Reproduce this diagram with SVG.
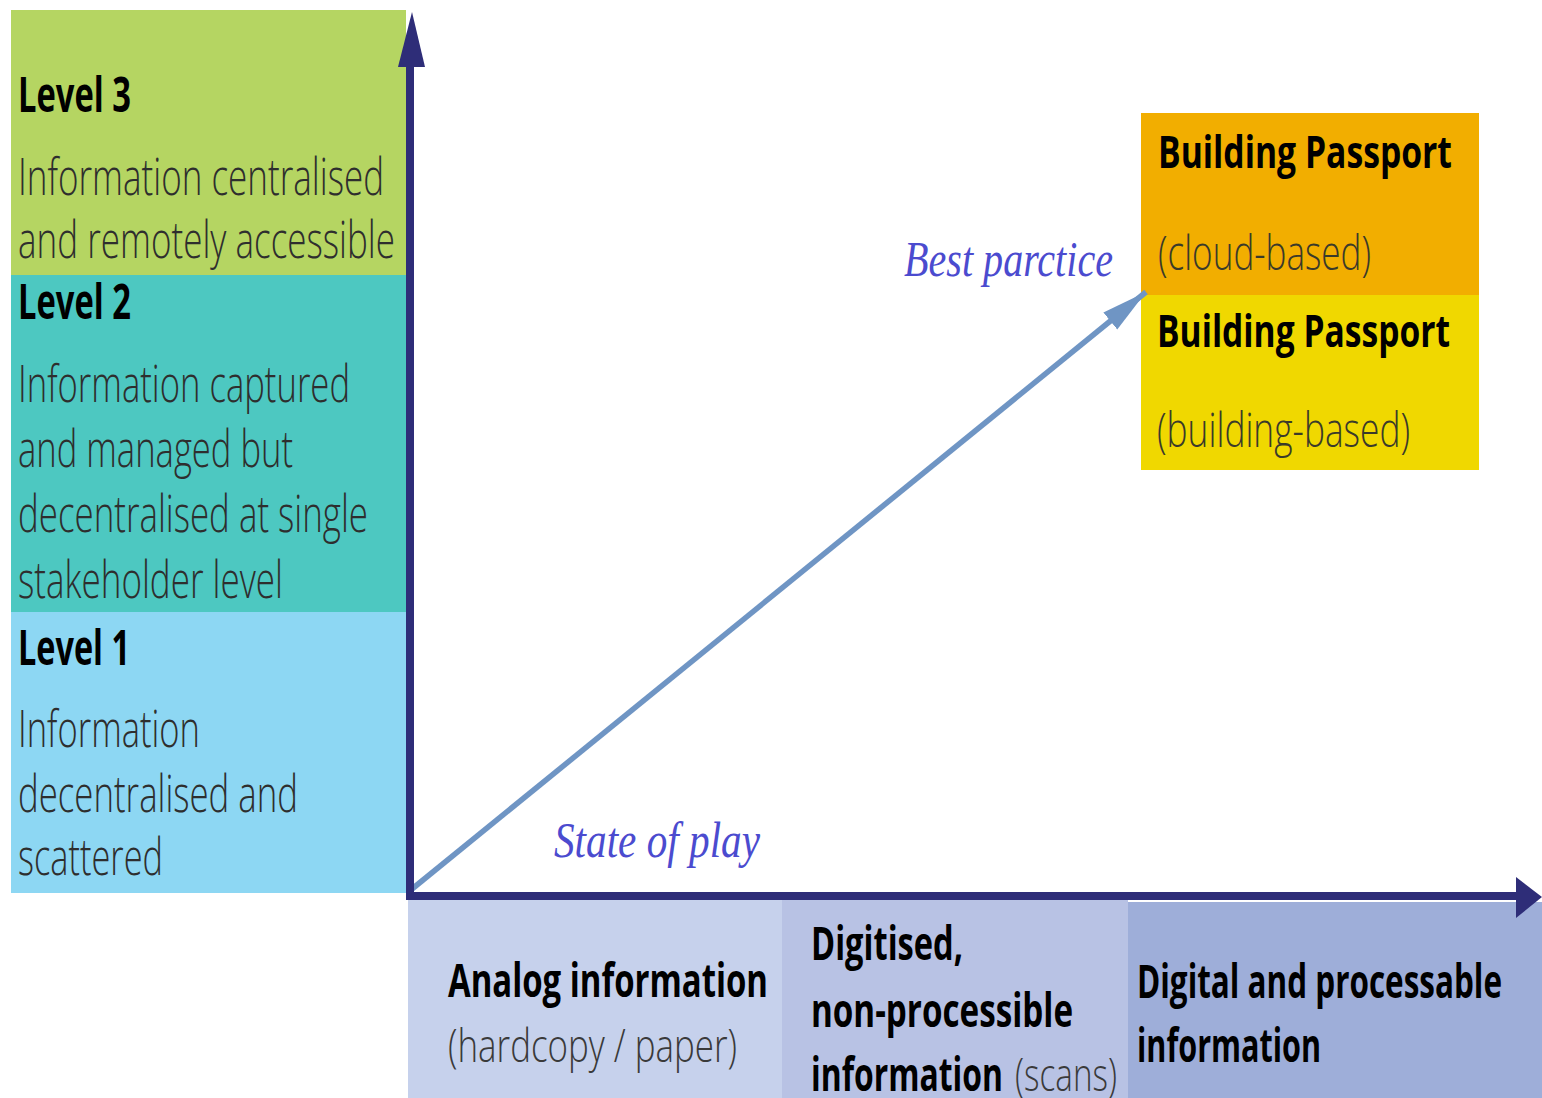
<svg xmlns="http://www.w3.org/2000/svg" width="1542" height="1098" viewBox="0 0 1542 1098">
<style>
.lvl{font-family:"Open Sans","Liberation Sans",sans-serif;font-weight:700;font-size:48px;fill:#000}
.body{font-family:"Open Sans","Liberation Sans",sans-serif;font-weight:300;font-size:52px;fill:#2e2e2e}
.bold{font-family:"Open Sans","Liberation Sans",sans-serif;font-weight:700;font-size:46px;fill:#000}
.lite{font-family:"Open Sans","Liberation Sans",sans-serif;font-weight:300;font-size:46px;fill:#3a3a3a}
.bp{font-family:"Open Sans","Liberation Sans",sans-serif;font-weight:700;font-size:44px;fill:#000}
.bpl{font-family:"Open Sans","Liberation Sans",sans-serif;font-weight:300;font-size:48px;fill:#3a3a2a}
.lbl{font-family:"Liberation Serif","Times New Roman",serif;font-style:italic;font-size:50px;fill:#4b4bcf}
.axis{fill:#2e2d78}
</style>
<defs>
<marker id="diag" markerUnits="userSpaceOnUse" markerWidth="48" markerHeight="26" refX="46" refY="13" orient="auto">
<path d="M0,2 L46,13 L0,24 z" fill="#6f95c4"/>
</marker>
</defs>
<rect width="1542" height="1098" fill="#fff"/>

<g id="level3">
<rect x="11" y="10" width="395" height="265" fill="#b5d562"/>
<text class="lvl" x="18" y="112" textLength="113" lengthAdjust="spacingAndGlyphs">Level 3</text>
<text class="body" x="18" y="195" textLength="366" lengthAdjust="spacingAndGlyphs">Information centralised</text>
<text class="body" x="18" y="258" textLength="377" lengthAdjust="spacingAndGlyphs">and remotely accessible</text>
</g>
<g id="level2">
<rect x="11" y="275" width="395" height="337" fill="#4dc8c1"/>
<text class="lvl" x="18" y="319" textLength="113" lengthAdjust="spacingAndGlyphs">Level 2</text>
<text class="body" x="18" y="402" textLength="332" lengthAdjust="spacingAndGlyphs">Information captured</text>
<text class="body" x="18" y="467" textLength="275" lengthAdjust="spacingAndGlyphs">and managed but</text>
<text class="body" x="18" y="532" textLength="350" lengthAdjust="spacingAndGlyphs">decentralised at single</text>
<text class="body" x="18" y="598" textLength="265" lengthAdjust="spacingAndGlyphs">stakeholder level</text>
</g>
<g id="level1">
<rect x="11" y="612" width="395" height="281" fill="#8dd7f3"/>
<text class="lvl" x="18" y="665" textLength="112" lengthAdjust="spacingAndGlyphs">Level 1</text>
<text class="body" x="18" y="747" textLength="182" lengthAdjust="spacingAndGlyphs">Information</text>
<text class="body" x="18" y="812" textLength="280" lengthAdjust="spacingAndGlyphs">decentralised and</text>
<text class="body" x="18" y="875" textLength="145" lengthAdjust="spacingAndGlyphs">scattered</text>
</g>

<g id="analog">
<rect x="408" y="900" width="374" height="198" fill="#c6d1ec"/>
<text class="bold" x="448" y="997" textLength="320" lengthAdjust="spacingAndGlyphs">Analog information</text>
<text class="lite" x="448" y="1062" textLength="289" lengthAdjust="spacingAndGlyphs">(hardcopy / paper)</text>
</g>
<g id="digitised">
<rect x="782" y="900" width="346" height="198" fill="#b8c2e4"/>
<text class="bold" x="811" y="960" textLength="152" lengthAdjust="spacingAndGlyphs">Digitised,</text>
<text class="bold" x="811" y="1027" textLength="262" lengthAdjust="spacingAndGlyphs">non-processible</text>
<text class="bold" x="811" y="1091" textLength="192" lengthAdjust="spacingAndGlyphs">information</text>
<text class="lite" x="1015" y="1091" textLength="102" lengthAdjust="spacingAndGlyphs">(scans)</text>
</g>
<g id="digital">
<rect x="1128" y="902" width="414" height="196" fill="#9eaed9"/>
<text class="bold" x="1137" y="998" textLength="365" lengthAdjust="spacingAndGlyphs">Digital and processable</text>
<text class="bold" x="1137" y="1062" textLength="184" lengthAdjust="spacingAndGlyphs">information</text>
</g>

<g id="passport-cloud">
<rect x="1141" y="113" width="338" height="182" fill="#f2ae00"/>
<text class="bp" x="1158" y="168" textLength="294" lengthAdjust="spacingAndGlyphs">Building Passport</text>
<text class="bpl" x="1158" y="270" textLength="213" lengthAdjust="spacingAndGlyphs">(cloud-based)</text>
</g>
<g id="passport-building">
<rect x="1141" y="295" width="338" height="175" fill="#f0d800"/>
<text class="bp" x="1157" y="347" textLength="293" lengthAdjust="spacingAndGlyphs">Building Passport</text>
<text class="bpl" x="1157" y="447" textLength="253" lengthAdjust="spacingAndGlyphs">(building-based)</text>
</g>

<g id="labels">
<text class="lbl" x="904" y="276" textLength="209" lengthAdjust="spacingAndGlyphs">Best parctice</text>
<text class="lbl" x="554" y="857" textLength="206" lengthAdjust="spacingAndGlyphs">State of play</text>
</g>

<g id="connectors">
<line x1="412" y1="889" x2="1146" y2="292" stroke="#6f95c4" stroke-width="5.5" marker-end="url(#diag)"/>
<rect class="axis" x="406" y="60" width="8" height="840"/>
<polygon class="axis" points="398,67 412,12 425,67"/>
<rect class="axis" x="406" y="892" width="1115" height="8"/>
<polygon class="axis" points="1516,877 1542,897 1516,918"/>
</g>
</svg>
